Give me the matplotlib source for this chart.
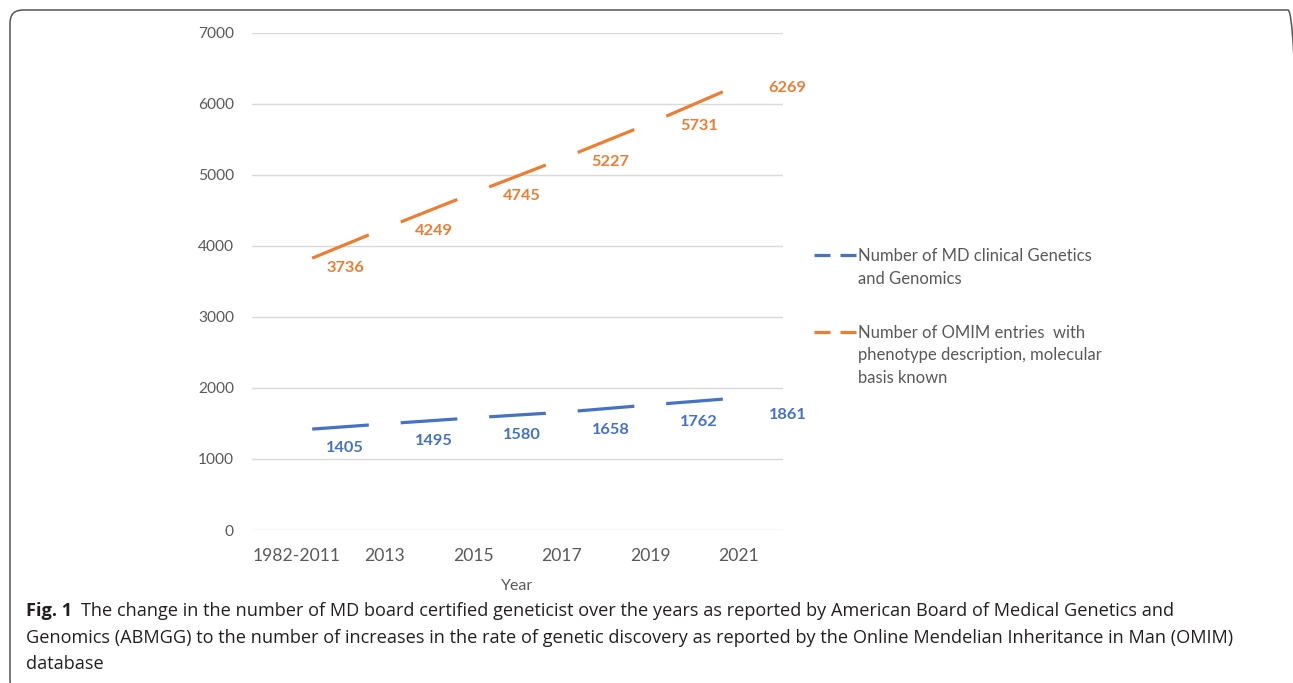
import matplotlib
matplotlib.use("Agg")
import matplotlib.pyplot as plt
from matplotlib.patches import FancyBboxPatch
from matplotlib.lines import Line2D
from matplotlib.transforms import IdentityTransform

categories = ["1982-2011", "2013", "2015", "2017", "2019", "2021"]
md_geneticists = [1405, 1495, 1580, 1658, 1762, 1861]
omim_entries = [3736, 4249, 4745, 5227, 5731, 6269]
series_names = ["Number of MD clinical Genetics\nand Genomics",
                "Number of OMIM entries  with\nphenotype description, molecular\nbasis known"]
yticks = [0, 1000, 2000, 3000, 4000, 5000, 6000, 7000]

BLUE = "#4472C4"
ORANGE = "#ED7D31"
GRAY = "#595959"

W, H = 1293, 683
fig = plt.figure(figsize=(W / 100, H / 100), dpi=100)

def fx(px):
    return px / W

def fy(py):
    return 1 - py / H

# frame around figure (pixel coordinates, origin bottom-left)
box = FancyBboxPatch((10, H - 693), 1301 - 10, 693 - 10,
                     boxstyle="round,pad=0,rounding_size=13",
                     transform=IdentityTransform(), fill=False,
                     edgecolor="#555555", linewidth=1.1, clip_on=False)
fig.patches.append(box)

ax = fig.add_axes([fx(252), fy(530), fx(783) - fx(252), fy(33) - fy(530)])
ax.set_xlim(-0.5, len(categories) - 0.5)
ax.set_ylim(0, 7000)
ax.set_yticks(yticks)
ax.set_xticks(range(len(categories)))
ax.set_xticklabels(categories)
for s in ax.spines.values():
    s.set_visible(False)
ax.grid(axis="y", color="#D9D9D9", linewidth=1.0)
ax.set_axisbelow(True)
ax.tick_params(axis="both", length=0, colors=GRAY)
ax.tick_params(axis="y", pad=13, labelsize=11.2)
ax.tick_params(axis="x", pad=13, labelsize=12.6)
for lab in ax.get_xticklabels() + ax.get_yticklabels():
    lab.set_fontfamily("Lato")
ax.set_xlabel("Year", fontsize=11.5, color=GRAY, fontfamily="Lato")
ax.xaxis.set_label_coords(0.5, (530 - 586) / 497)
ax.xaxis.label.set_va("center")

def dashed_series(values, color, label_dy):
    for i in range(len(values) - 1):
        f0, f1 = 0.18, 0.82
        x0, x1 = i + f0, i + f1
        y0 = values[i] + (values[i + 1] - values[i]) * f0
        y1 = values[i] + (values[i + 1] - values[i]) * f1
        ax.plot([x0, x1], [y0, y1], color=color, linewidth=2.3,
                solid_capstyle="butt")
    for i, v in enumerate(values):
        ax.annotate(str(v), (i, v), xytext=(21.5, label_dy), textcoords="offset points",
                    ha="left", va="center", color=color, fontsize=11.8,
                    fontweight="bold", fontfamily="Lato")

dashed_series(md_geneticists, BLUE, -12.5)
dashed_series(omim_entries, ORANGE, -2)

# legend
legend_items = [(BLUE, series_names[0], 255), (ORANGE, series_names[1], 332)]
for color, name, ytop in legend_items:
    for a, b in [(814, 830), (840, 856)]:
        fig.add_artist(Line2D([fx(a), fx(b)], [fy(ytop), fy(ytop)], color=color,
                              linewidth=2.3, solid_capstyle="butt",
                              transform=fig.transFigure))
    for k, line in enumerate(name.split("\n")):
        fig.text(fx(858), fy(ytop + 1 + 22.5 * k), line, ha="left", va="center",
                 color=GRAY, fontsize=12.0, fontfamily="Lato")

# caption
CAP = "#231F20"
CS = 13.05
fig.text(fx(26), fy(616), "Fig. 1", fontsize=CS, fontweight="bold",
         fontfamily="Open Sans", color=CAP, va="baseline")
fig.text(fx(81), fy(616),
         "The change in the number of MD board certified geneticist over the years as reported by American Board of Medical Genetics and",
         fontsize=CS, fontfamily="Open Sans", color=CAP, va="baseline")
fig.text(fx(26), fy(643),
         "Genomics (ABMGG) to the number of increases in the rate of genetic discovery as reported by the Online Mendelian Inheritance in Man (OMIM)",
         fontsize=CS, fontfamily="Open Sans", color=CAP, va="baseline")
fig.text(fx(26), fy(669), "database",
         fontsize=CS, fontfamily="Open Sans", color=CAP, va="baseline")

fig.savefig("out.png", dpi=100)
